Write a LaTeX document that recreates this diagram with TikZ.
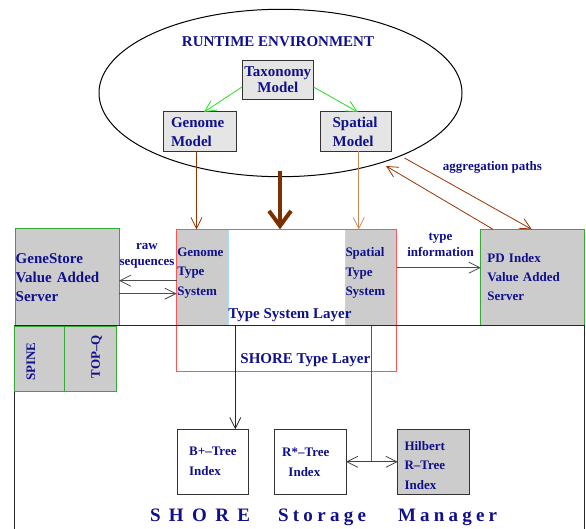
\documentclass[tikz,border=0pt]{standalone}
\usepackage{fontspec}
\setmainfont{Liberation Serif}
\usetikzlibrary{arrows.meta,shapes.geometric,calc}
\definecolor{navy}{HTML}{10108C}
\definecolor{brownA}{HTML}{993300}
\definecolor{brownB}{HTML}{CC8855}
\definecolor{brownC}{HTML}{7A3000}
\definecolor{redB}{HTML}{FF5555}
\definecolor{greenB}{HTML}{33AA33}
\definecolor{greenA}{HTML}{22DD22}
\definecolor{boxgray}{HTML}{CCCCCC}
\definecolor{lightgrayB}{HTML}{E5E5E5}
\definecolor{skyline}{HTML}{AADDFF}
\begin{document}
\begin{tikzpicture}[x=1pt,y=-1pt,
  every node/.style={inner sep=0pt, outer sep=0pt},
  t/.style 2 args={text=navy, font=\bfseries\fontsize{#1}{#2}\selectfont},
  modelbox/.style={draw=black!80, fill=lightgrayB, line width=1pt},
  graybox/.style={draw=black!80, fill=boxgray, line width=1pt},
  plainbox/.style={draw=black!80, fill=white, line width=1pt},
  serverbox/.style={draw=greenB, fill=boxgray, line width=1pt},
  tipB/.tip={Straight Barb[length=11pt,width=11pt]},
  arr/.style={-tipB, line width=0.8pt},
  ]
\useasboundingbox (0,0) rectangle (586,529);
\clip (0,0) rectangle (586,529);

% runtime environment
\node[draw=black, ellipse, line width=1pt, minimum width=363pt, minimum height=167.4pt] (env) at (280.5,93) {};
\node[t={15}{19}] (title) at (278,42) {RUNTIME ENVIRONMENT};
\node[modelbox, minimum width=71.5pt, minimum height=38.6pt, align=center, t={15}{16}] (tax) at (277.75,80) {Taxonomy\\Model};
\node[modelbox, minimum width=73pt, minimum height=39.5pt, text width=57pt, inner xsep=8pt, align=left, t={15}{19}] (gen) at (199.5,131.75) {Genome\\Model};
\node[modelbox, minimum width=71.5pt, minimum height=39.5pt, text width=46.3pt, inner xsep=12.6pt, align=left, t={15}{19}] (spa) at (355.75,131.75) {Spatial\\Model};

% type system layer
\node[fill=boxgray, minimum width=52pt, minimum height=96.4pt] (gts) at (202.7,277.5) {};
\node[fill=boxgray, minimum width=51.7pt, minimum height=96.4pt] (sts) at (370.85,277.5) {};
\draw[skyline, line width=0.8pt] (gts.north east) -- (gts.south east);
\draw[skyline, line width=0.8pt] (sts.north west) -- (sts.south west);
\node[draw=redB, line width=1pt, minimum width=220pt, minimum height=142.4pt] (tsl) at (286.7,300.5) {};
\node[t={13}{19.5}, align=left, anchor=west] (gtstxt) at (177.3,273) {Genome\\Type\\System};
\node[t={13}{19.5}, align=left, anchor=west] (ststxt) at (345.5,273) {Spatial\\Type\\System};
\node[t={15}{19}] (tsltxt) at (290,315) {Type System Layer};
\node[t={15}{19}] (shoretxt) at (305.3,360) {SHORE Type Layer};

% servers
\node[serverbox, minimum width=104pt, minimum height=96.7pt, text width=102.6pt, inner xsep=0.7pt, align=left, t={15}{19}] (gs) at (67,277.35) {GeneStore\\Value Added\\Server};
\node[serverbox, minimum width=103.6pt, minimum height=96.4pt, text width=90.4pt, inner xsep=6.6pt, align=left, t={13}{19}] (pd) at (532.5,277.5) {PD Index\\Value Added\\Server};

% storage manager frame
\node[draw=black!85, line width=1pt, minimum width=569.7pt, minimum height=240pt, anchor=north west] (ssm) at (14.3,325.7) {};
\node[serverbox, minimum width=50.3pt, minimum height=64.3pt] (spine) at (39.15,358.85) {};
\node[serverbox, minimum width=52.4pt, minimum height=64.3pt] (topq) at (90.5,358.85) {};
\node[t={13}{16}, rotate=90] (spinetxt) at (31,361.7) {SPINE};
\node[t={13}{16}, rotate=90] (topqtxt) at (96.7,356.7) {TOP–Q};

% index boxes
\node[plainbox, minimum width=71.7pt, minimum height=65pt, align=left, t={13}{20}] (bplus) at (212.85,461.8) {B+–Tree\\Index};
\node[plainbox, minimum width=71.5pt, minimum height=65pt, align=left, t={13}{20}] (rstar) at (310.25,461.8) {R*–Tree\hspace*{9pt}\\\hspace*{6.3pt}Index};
\node[graybox, minimum width=71.3pt, minimum height=65pt, text width=57.7pt, inner xsep=6.8pt, align=left, t={13}{19.5}] (hil) at (433.35,461.8) {};
\node[t={13}{19.5}, align=left, anchor=west] (hiltxt) at (404.5,465.5) {Hilbert\\R–Tree\\Index};

% SHORE Storage Manager
\node[t={19}{20}, anchor=base west] (w1) at (150,521.5) {S\hspace{8.4pt}H\hspace{8.4pt}O\hspace{8.4pt}R\hspace{8.4pt}E};
\node[t={19}{20}, anchor=base west] (w2) at (278,521.5) {S\hspace{4.3pt}t\hspace{4.3pt}o\hspace{4.3pt}r\hspace{4.3pt}a\hspace{4.3pt}g\hspace{4.3pt}e};
\node[t={19}{20}, anchor=base west] (w3) at (398,521.5) {M\hspace{4.2pt}a\hspace{4.2pt}n\hspace{4.2pt}a\hspace{4.2pt}g\hspace{4.2pt}e\hspace{4.2pt}r};

% labels
\node[t={13}{16}, align=center] (rawlbl) at (147,256) {raw\\sequences};
\node[t={13}{15.5}, align=center] (tilbl) at (440.5,245) {type\\information};
\node[t={13}{16}] (agglbl) at (492.5,167) {aggregation paths};

% connectors
\draw[greenA, arr] ([yshift=-7pt]tax.west) -- ([xshift=4.5pt]gen.north);
\draw[greenA, arr] ([yshift=-7pt]tax.east) -- ([xshift=2pt]spa.north);
\draw[brownA, arr] ([xshift=-3pt]gen.south) -- ([xshift=-3pt]gen.south |- tsl.north);
\draw[brownB, arr] ([xshift=3pt]spa.south) -- ([xshift=3pt]spa.south |- tsl.north);
\coordinate (thk) at (280,171);
\draw[brownC, line width=4pt, -{Straight Barb[length=15pt,width=22pt]}] (thk) -- (thk |- tsl.north);
\coordinate (ag1) at (386,166);
\coordinate (ag2) at (404.5,158);
\draw[brownA, arr] ([xshift=12.3pt]pd.north west) -- (ag1);
\draw[brownA, arr] (ag2) -- ([xshift=51pt]pd.north west);
\draw[black!70, arr] ([yshift=-3.2pt]gts.west) -- ([yshift=-3.2pt]gts.west -| gs.east);
\draw[black!70, arr] ([yshift=-16.3pt]gs.east) -- ([yshift=-16.3pt]gs.east -| gts.west);
\draw[black!70, arr] ([yshift=32.8pt]tsl.east) -- ([yshift=32.8pt]tsl.east -| pd.west);
\draw[black!85, arr] ([xshift=22.45pt]bplus.north |- ssm.north) -- ([xshift=22.45pt]bplus.north);
\coordinate (vj) at (371.5,461.8);
\draw[black!65, line width=0.8pt] (vj |- ssm.north) -- (vj);
\draw[black!75, line width=0.8pt, tipB-tipB] (rstar.east) -- (hil.west);
\end{tikzpicture}
\end{document}
